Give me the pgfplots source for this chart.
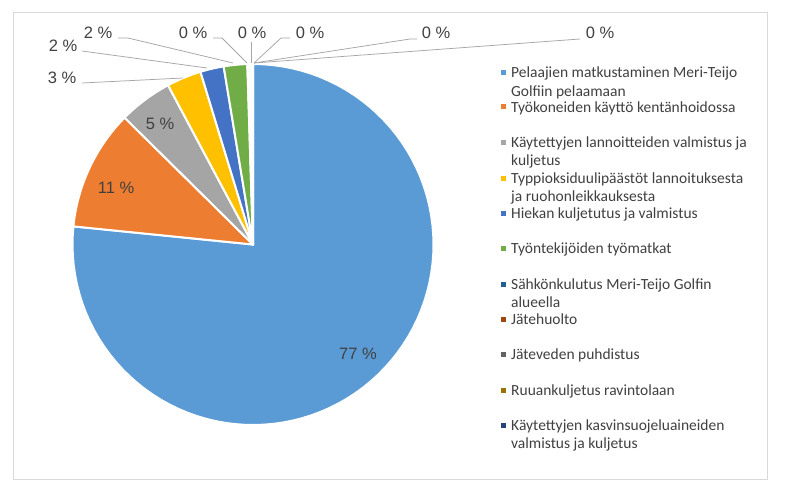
\documentclass[border=0pt]{standalone}
\usepackage{pgfplots}
\pgfplotsset{compat=1.18}
\usepackage{pgfplotstable}
\usepackage{fontspec}
\setmainfont{Carlito}
\newfontfamily\arialf{Liberation Sans}

\definecolor{s1}{HTML}{5B9BD5}
\definecolor{s2}{HTML}{ED7D31}
\definecolor{s3}{HTML}{A5A5A5}
\definecolor{s4}{HTML}{FFC000}
\definecolor{s5}{HTML}{4472C4}
\definecolor{s6}{HTML}{70AD47}
\definecolor{s7}{HTML}{255E91}
\definecolor{s8}{HTML}{9E480E}
\definecolor{s9}{HTML}{636363}
\definecolor{s10}{HTML}{997300}
\definecolor{s11}{HTML}{264478}
\definecolor{txt}{HTML}{404040}
\definecolor{leader}{HTML}{A6A6A6}
\definecolor{frame}{HTML}{D9D9D9}

\newcommand\pctfont{\arialf\fontsize{16.5bp}{19bp}\selectfont}
\newcommand\legfont{\fontsize{15.5bp}{18bp}\selectfont}

% share in percent, slice colour, label centre (px from top left)
\pgfplotstableread{
value col lx ly
76.6 s1 358 353
10.8 s2 116 187
4.8  s3 160 123
3.1  s4 62  78
2.1  s5 63  46
2.1  s6 98  33
0.2  s7 193 33
0.1  s8 252 33
0.1  s9 310 33
0.05 s10 436 33
0.05 s11 600 33
}\pietable

% legend entry: colour, line centre, text
\newcommand\leg[3]{%
  \fill[#1] ([xshift=-2.5bp,yshift=-2.5bp]axis cs:503,#2) rectangle ([xshift=2.5bp,yshift=2.5bp]axis cs:503,#2);
  \node[anchor=base west, font=\legfont, text=txt, inner sep=0pt] at ([yshift=-5bp]axis cs:511,#2) {#3};}
\newcommand\legline[2]{%
  \node[anchor=base west, font=\legfont, text=txt, inner sep=0pt] at ([yshift=-5bp]axis cs:511,#1) {#2};}

\begin{document}
\begin{tikzpicture}
\begin{axis}[
  width=785bp, height=487bp, scale only axis,
  xmin=0, xmax=785, ymin=0, ymax=487, y dir=reverse,
  hide axis, clip=false,
]
\fill[white] (axis cs:0,0) rectangle (axis cs:785,487);
\draw[frame, line width=0.75pt] (axis cs:13,12) rectangle (axis cs:767,479);

\pgfplotstablegetrowsof{\pietable}
\pgfmathtruncatemacro\lastrow{\pgfplotsretval-1}
\xdef\angacc{90}
\pgfplotsforeachungrouped \i in {0,...,\lastrow}{%
  \pgfplotstablegetelem{\i}{value}\of\pietable \let\val\pgfplotsretval
  \pgfplotstablegetelem{\i}{col}\of\pietable \let\col\pgfplotsretval
  \pgfplotstablegetelem{\i}{lx}\of\pietable \let\lx\pgfplotsretval
  \pgfplotstablegetelem{\i}{ly}\of\pietable \let\ly\pgfplotsretval
  \pgfmathsetmacro\aend{\angacc-3.6*\val}
  \pgfmathtruncatemacro\pct{round(\val)}
  \edef\doslice{%
    \noexpand\addplot[fill=\col, draw=white, line width=2bp, line join=round,
      domain=\aend:\angacc, samples=90, variable=\noexpand\t]
      ({253+180.5*cos(\noexpand\t)}, {244.5-180.5*sin(\noexpand\t)})
      -- (axis cs:253,244.5) -- cycle;
    \noexpand\node[font=\noexpand\pctfont, text=txt, anchor=base, inner sep=0pt]
      at ([yshift=-6bp]axis cs:\lx,\ly) {\pct\space\noexpand\%};
  }%
  \doslice
  \xdef\angacc{\aend}
}

% leader lines
\begin{scope}[leader, line width=0.75pt]
\draw (axis cs:82,83) -- (axis cs:183,78);
\draw (axis cs:82,51) -- (axis cs:207,68);
\draw (axis cs:118,38) -- (axis cs:128,38) -- (axis cs:233,63);
\draw (axis cs:213,38) -- (axis cs:222,38) -- (axis cs:247,63);
\draw (axis cs:251,42) -- (axis cs:251,63);
\draw (axis cs:290,38) -- (axis cs:281,38) -- (axis cs:254,63);
\draw (axis cs:417,39) -- (axis cs:410,39) -- (axis cs:254,63);
\draw (axis cs:580,39) -- (axis cs:254,63);
\end{scope}

\leg{s1}{73}{Pelaajien matkustaminen Meri-Teijo}
\legline{91}{Golfiin pelaamaan}
\leg{s2}{107}{Työkoneiden käyttö kentänhoidossa}
\leg{s3}{142}{Käytettyjen lannoitteiden valmistus ja}
\legline{160}{kuljetus}
\leg{s4}{178}{Typpioksiduulipäästöt lannoituksesta}
\legline{196}{ja ruohonleikkauksesta}
\leg{s5}{213}{Hiekan kuljetutus ja valmistus}
\leg{s6}{248}{Työntekijöiden työmatkat}
\leg{s7}{284}{Sähkönkulutus Meri-Teijo Golfin}
\legline{302}{alueella}
\leg{s8}{319}{Jätehuolto}
\leg{s9}{354}{Jäteveden puhdistus}
\leg{s10}{390}{Ruuankuljetus ravintolaan}
\leg{s11}{425}{Käytettyjen kasvinsuojeluaineiden}
\legline{443}{valmistus ja kuljetus}
\end{axis}
\end{tikzpicture}
\end{document}
